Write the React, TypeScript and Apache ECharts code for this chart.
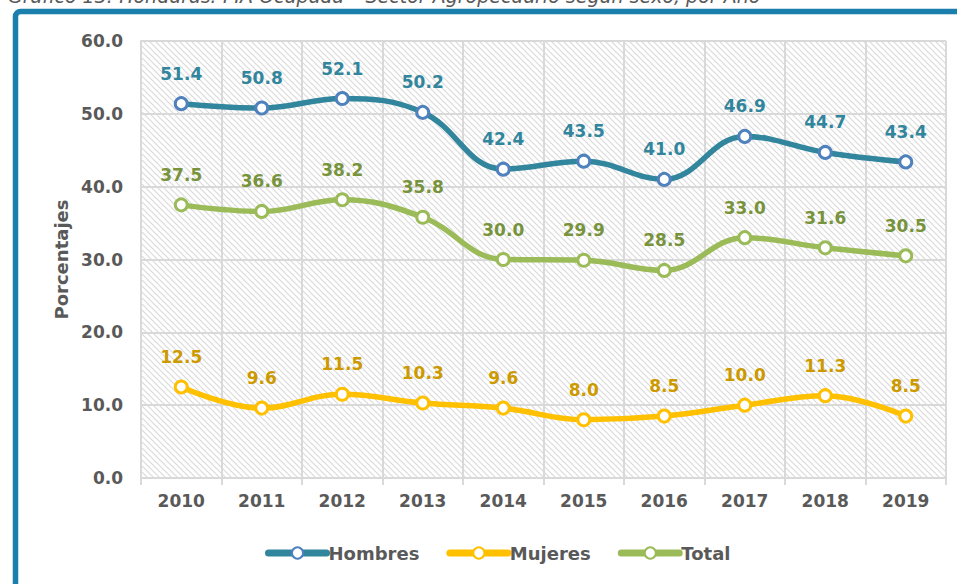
import React, { useEffect, useRef } from "react";
import * as echarts from "echarts";

const years = ["2010", "2011", "2012", "2013", "2014", "2015", "2016", "2017", "2018", "2019"];
const hombres = [51.4, 50.8, 52.1, 50.2, 42.4, 43.5, 41.0, 46.9, 44.7, 43.4];
const mujeres = [12.5, 9.6, 11.5, 10.3, 9.6, 8.0, 8.5, 10.0, 11.3, 8.5];
const total = [37.5, 36.6, 38.2, 35.8, 30.0, 29.9, 28.5, 33.0, 31.6, 30.5];
const yTicks = { min: 0, max: 60, interval: 10 };
const titleText = "Gráfico 13: Honduras: PIA Ocupada * Sector Agropecuario según sexo, por Año";

const FONT = "'DejaVu Sans', Verdana, sans-serif";
const GRAY = "#595959";
const GRID = "#d9d9d9";

function makePattern(): HTMLCanvasElement {
  const c = document.createElement("canvas");
  const s = 6;
  c.width = s;
  c.height = s;
  const ctx = c.getContext("2d")!;
  ctx.fillStyle = "#ffffff";
  ctx.fillRect(0, 0, s, s);
  ctx.strokeStyle = "#dadada";
  ctx.lineWidth = 1.2;
  ctx.beginPath();
  ctx.moveTo(-1, -1);
  ctx.lineTo(s + 1, s + 1);
  ctx.moveTo(-1, s - 1);
  ctx.lineTo(1, s + 1);
  ctx.moveTo(s - 1, -1);
  ctx.lineTo(s + 1, 1);
  ctx.stroke();
  return c;
}

function lineSeries(name: string, data: number[], lineColor: string, markColor: string, labelColor: string) {
  return {
    name,
    type: "line",
    data,
    smooth: 0.4,
    symbol: "circle",
    symbolSize: 12,
    lineStyle: { color: lineColor, width: 5.5 },
    itemStyle: { color: "#ffffff", borderColor: markColor, borderWidth: 3 },
    label: {
      show: true,
      position: "top",
      distance: 14,
      formatter: (p: any) => Number(p.value).toFixed(1),
      color: labelColor,
      fontFamily: FONT,
      fontWeight: "bold",
      fontSize: 17,
    },
    emphasis: { disabled: true },
  };
}

export default function App() {
  const ref = useRef<HTMLDivElement>(null);
  useEffect(() => {
    if (!ref.current) return;
    const chart = echarts.init(ref.current, undefined, { renderer: "svg" });
    const pattern = makePattern();
    chart.setOption({
      animation: false,
      backgroundColor: "#ffffff",
      graphic: [
        {
          type: "text",
          left: 8,
          top: -14,
          silent: true,
          style: {
            text: titleText,
            font: `italic 19px ${FONT}`,
            fill: GRAY,
          },
        },
        {
          type: "rect",
          silent: true,
          z: -10,
          shape: { x: 15.5, y: 11.5, width: 1100, height: 1100, r: 5 },
          style: { fill: "none", stroke: "#1a7fad", lineWidth: 5.5 },
        },
      ],
      grid: {
        left: 141,
        right: 11,
        top: 41,
        bottom: 106,
        show: true,
        backgroundColor: { image: pattern, repeat: "repeat" },
        borderWidth: 0,
      },
      legend: {
        left: 260,
        top: 539,
        itemWidth: 58,
        itemHeight: 14,
        itemGap: 27,
        lineStyle: { width: 7, cap: "round" },
        textStyle: { color: GRAY, fontFamily: FONT, fontWeight: "bold", fontSize: 18, padding: [0, 0, 0, -3] },
        data: ["Hombres", "Mujeres", "Total"],
      },
      xAxis: {
        type: "category",
        data: years,
        boundaryGap: true,
        axisLine: { show: true, lineStyle: { color: GRID, width: 2 } },
        axisTick: { show: true, length: 7, lineStyle: { color: GRID, width: 2 } },
        splitLine: { show: true, lineStyle: { color: GRID, width: 2 } },
        axisLabel: { color: GRAY, fontFamily: FONT, fontWeight: "bold", fontSize: 17, margin: 14 },
      },
      yAxis: {
        type: "value",
        min: yTicks.min,
        max: yTicks.max,
        interval: yTicks.interval,
        name: "Porcentajes",
        nameLocation: "middle",
        nameRotate: 90,
        nameGap: 70,
        nameTextStyle: { color: GRAY, fontFamily: FONT, fontWeight: "bold", fontSize: 18 },
        axisLine: { show: true, lineStyle: { color: GRID, width: 2 } },
        axisTick: { show: false },
        splitLine: { show: true, lineStyle: { color: GRID, width: 2 } },
        axisLabel: {
          color: GRAY,
          fontFamily: FONT,
          fontWeight: "bold",
          fontSize: 17,
          margin: 18,
          formatter: (v: number) => v.toFixed(1),
        },
      },
      series: [
        lineSeries("Hombres", hombres, "#31859c", "#4f81bd", "#31859c"),
        lineSeries("Mujeres", mujeres, "#ffc000", "#ffc000", "#cc9a00"),
        lineSeries("Total", total, "#9bbb59", "#9bbb59", "#77933c"),
      ],
    });
    return () => chart.dispose();
  }, []);
  return (
    <div
      ref={ref}
      style={{ position: "absolute", left: 0, top: 0, width: 957, height: 584 }}
    />
  );
}
